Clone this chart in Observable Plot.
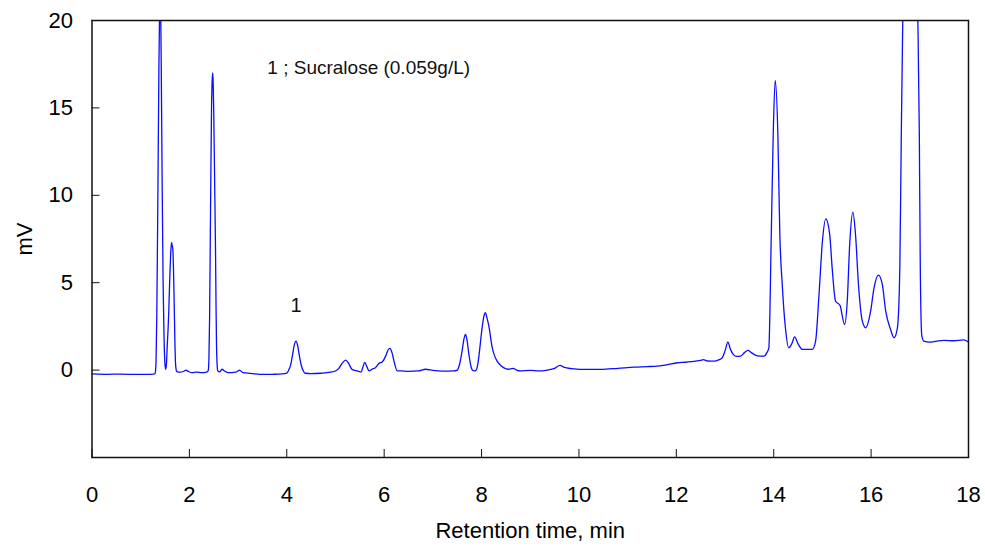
<!DOCTYPE html>
<html>
<head>
<meta charset="utf-8">
<script src="https://cdn.jsdelivr.net/npm/d3@7"></script>
<script src="https://cdn.jsdelivr.net/npm/@observablehq/plot@0.6"></script>
<style>
  html, body { margin: 0; padding: 0; background: #fff; }
  #chart { width: 985px; height: 546px; }
  svg text { font-family: "Liberation Sans", Arial, sans-serif; }
</style>
</head>
<body>
<div id="chart"></div>
<script>
// Retention time (min) and detector signal (mV)
const time = [
  0, 0.3, 0.6, 0.9, 1.2, 1.29,
  1.30, 1.315, 1.33, 1.35, 1.37, 1.39, 1.405, 1.42, 1.44, 1.46, 1.48, 1.50, 1.515,
  1.53, 1.545, 1.56, 1.577, 1.60, 1.615, 1.633, 1.648, 1.66, 1.675, 1.69, 1.70, 1.715, 1.735, 1.75,
  1.8, 1.88, 1.93, 1.98, 2.05, 2.15, 2.25, 2.35, 2.385,
  2.40, 2.415, 2.434, 2.454, 2.47, 2.481, 2.49, 2.50, 2.52, 2.536, 2.548, 2.557, 2.57, 2.584,
  2.62, 2.67, 2.72, 2.80, 2.95, 3.03, 3.10, 3.3, 3.5, 3.7, 3.9, 4.0,
  4.04, 4.08, 4.12, 4.16, 4.19, 4.22, 4.26, 4.30, 4.34, 4.38, 4.5, 4.7, 4.9, 5.0,
  5.07, 5.14, 5.21, 5.27, 5.34, 5.45, 5.53, 5.56, 5.60, 5.645, 5.69, 5.75, 5.82, 5.90, 5.96, 6.03, 6.08, 6.12, 6.16, 6.21, 6.27,
  6.35, 6.5, 6.7, 6.85, 7.0, 7.2, 7.43, 7.50,
  7.55, 7.60, 7.64, 7.67, 7.70, 7.74, 7.78, 7.81, 7.85, 7.88,
  7.92, 7.95, 7.98, 8.02, 8.05, 8.08, 8.11, 8.15, 8.22, 8.27, 8.32, 8.40, 8.46, 8.55, 8.65, 8.72, 8.8,
  9.0, 9.17, 9.35, 9.5, 9.61, 9.7, 9.85, 10.03, 10.44, 10.8, 11.13, 11.4, 11.61, 11.8, 12.02, 12.2, 12.35, 12.5, 12.55, 12.65, 12.77, 12.88, 12.94,
  13.0, 13.06, 13.11, 13.17, 13.24, 13.32, 13.4, 13.47, 13.54, 13.62, 13.72, 13.80, 13.86, 13.90,
  13.95, 13.99, 14.03, 14.085, 14.125, 14.175, 14.24, 14.31, 14.37, 14.43, 14.50, 14.59, 14.79, 14.86,
  14.93, 15.0, 15.07, 15.15, 15.20, 15.27, 15.36, 15.455, 15.51, 15.56, 15.625, 15.68, 15.74, 15.82, 15.89,
  15.99, 16.06, 16.15, 16.23, 16.30, 16.40, 16.47, 16.54, 16.59, 16.62, 16.65,
  16.70, 16.80, 16.90, 16.96, 16.99, 17.01, 17.04, 17.08, 17.2, 17.35, 17.5, 17.7, 17.9, 18.0
];
const signal = [
  -0.22, -0.24, -0.23, -0.25, -0.24, -0.22,
  -0.15, 0.5, 3, 9, 16, 21, 21.5, 18, 11, 5, 1.8, 0.3, 0.05,
  0.4, 1.4, 2.2, 3.4, 5.5, 6.6, 7.3, 7.1, 6.9, 5.6, 3.5, 2.0, 0.4, -0.05, -0.1,
  -0.12, -0.08, 0.0, -0.08, -0.15, -0.12, -0.15, -0.12, -0.05,
  0.5, 3, 9, 14.8, 16.7, 17.0, 16.2, 14.8, 10.5, 7.0, 3.5, 1.5, 0.3, -0.05,
  -0.1, 0.05, -0.05, -0.15, -0.12, 0.0, -0.15, -0.2, -0.25, -0.24, -0.22, -0.18,
  0.0, 0.3, 0.9, 1.5, 1.66, 1.45, 0.8, 0.25, -0.05, -0.18, -0.2, -0.18, -0.12, -0.05,
  0.1, 0.4, 0.57, 0.38, 0.04, -0.05, -0.1, 0.15, 0.44, 0.2, -0.05, 0.05, 0.13, 0.4, 0.47, 0.8, 1.15, 1.24, 1.0, 0.42, -0.05,
  -0.05, -0.07, -0.05, 0.05, -0.02, -0.06, -0.05, 0.0,
  0.35, 1.09, 1.8, 2.04, 1.75, 0.9, 0.25, 0.0, -0.05, -0.03,
  0.3, 0.9, 1.66, 2.6, 3.1, 3.28, 3.0, 2.51, 1.27, 0.8, 0.51, 0.25, 0.13, 0.05, 0.1, 0.0, -0.05,
  -0.02, -0.05, 0.0, 0.1, 0.27, 0.15, 0.08, 0.04, 0.04, 0.1, 0.17, 0.2, 0.23, 0.3, 0.42, 0.45, 0.5, 0.55, 0.6, 0.52, 0.51, 0.6, 0.7,
  1.1, 1.6, 1.2, 0.9, 0.78, 0.8, 1.0, 1.13, 1.0, 0.86, 0.8, 0.8, 1.0, 1.27,
  7.76, 13.5, 16.57, 13.5, 7.8, 4.9, 2.42, 1.27, 1.5, 1.9, 1.5, 1.18, 1.18, 1.66,
  4.32, 7.37, 8.65, 7.75, 5.85, 3.94, 3.71, 2.61, 3.94, 7.18, 9.03, 7.75, 4.9, 2.8, 2.42,
  3.37, 4.7, 5.43, 4.9, 3.37, 2.32, 1.85, 2.42, 5.85, 13.5, 20,
  26, 30, 27, 20, 13.5, 5.85, 2.0, 1.66, 1.6, 1.66, 1.7, 1.68, 1.73, 1.6
];

const xTicks = [0, 2, 4, 6, 8, 10, 12, 14, 16, 18];
const yTicks = [-5, 0, 5, 10, 15, 20];
const yTickLabels = [0, 5, 10, 15, 20];
const peakLabels = [{label: "1", t: 4.19, h: 1.66}];
const noteText = ["1 ; Sucralose (0.059g/L)"];

const trace = time.map((t, i) => ({t, v: signal[i]}));

const W = 985, H = 546;
const mL = 91.5, mR = 17, mT = 20, mB = 89;
const plotW = W - mL - mR, plotH = H - mT - mB;

const chart = Plot.plot({
  width: W,
  height: H,
  marginLeft: mL,
  marginRight: mR,
  marginTop: mT,
  marginBottom: mB,
  style: {fontFamily: "Liberation Sans, Arial, sans-serif", color: "#000", background: "#fff"},
  x: {domain: [0, 18]},
  y: {domain: [-5, 20]},
  marks: [
    Plot.line(trace, {x: "t", y: "v", stroke: "#0c0cff", strokeWidth: 1.3, curve: "monotone-x", clip: true}),
    Plot.frame({stroke: "#111", strokeWidth: 1.5}),
    Plot.tickX(xTicks, {x: d => d, insetTop: plotH - 8, stroke: "#111", strokeWidth: 1}),
    Plot.tickY(yTicks, {y: d => d, insetRight: plotW - 8, stroke: "#111", strokeWidth: 1}),
    Plot.axisX(xTicks, {tickSize: 0, tickPadding: 29, fontSize: 22, label: "Retention time, min", labelAnchor: "center", labelOffset: 80, labelArrow: "none"}),
    Plot.axisY(yTickLabels, {tickSize: 0, tickPadding: 19, fontSize: 22, label: "mV", labelAnchor: "center", labelOffset: 76, labelArrow: "none"}),
    Plot.text(peakLabels, {x: "t", y: "h", text: "label", dy: -35, fontSize: 20, fill: "#111"}),
    Plot.text(noteText, {x: 3.6, y: 17.3, text: d => d, textAnchor: "start", fontSize: 19, fill: "#111"})
  ]
});
document.getElementById("chart").appendChild(chart);
</script>
</body>
</html>
